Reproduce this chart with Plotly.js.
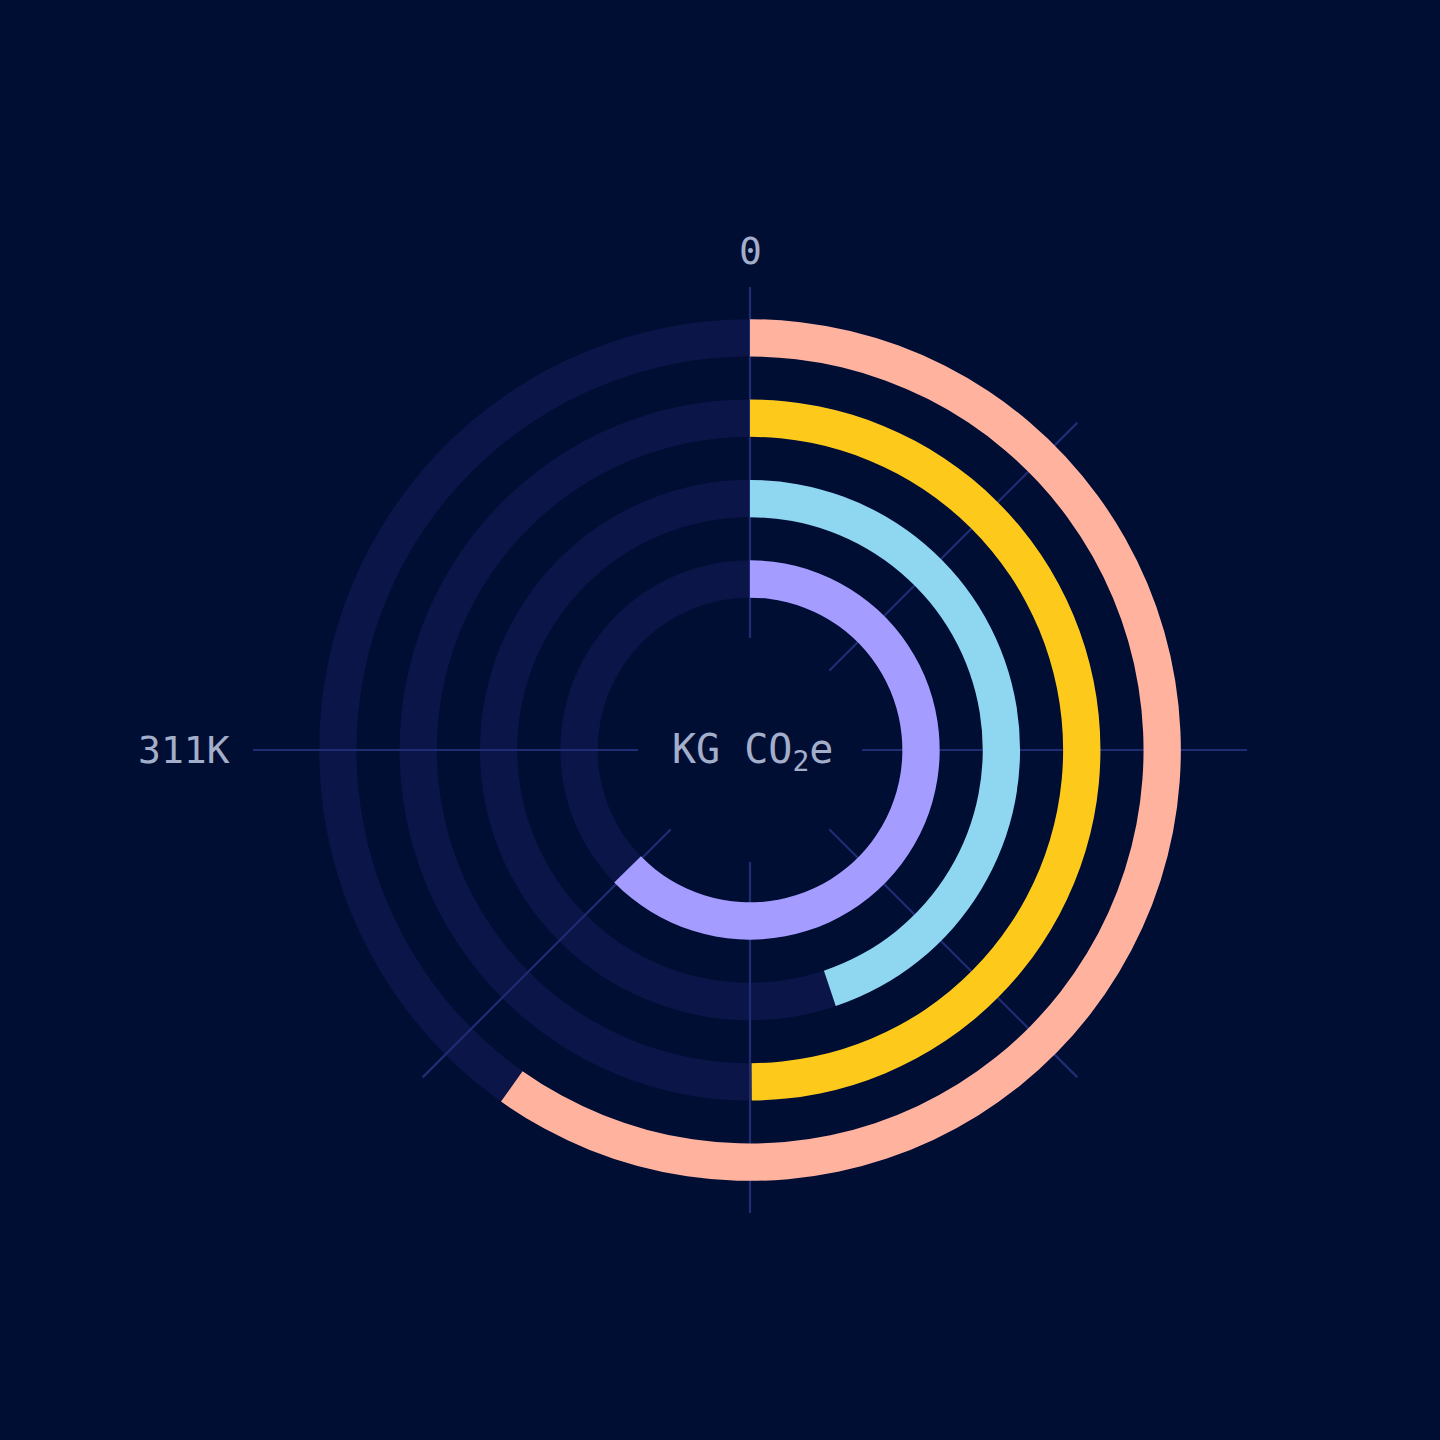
<!DOCTYPE html>
<html>
<head>
<meta charset="utf-8">
<script src="https://cdn.plot.ly/plotly-3.0.1.min.js"></script>
<style>
  html, body { margin: 0; padding: 0; background: #010e33; }
  #chart { width: 1440px; height: 1440px; }
</style>
</head>
<body>
<div id="chart"></div>
<script>
// ---- data ----
const seriesNames = ['Series A', 'Series B', 'Series C', 'Series D']; // inner -> outer ring
const seriesValues = [260, 186, 207, 248];   // thousands of kg CO2e
const seriesColors = ['#a59cff', '#8fd7f0', '#fdca1b', '#ffb39f'];
const axisMax = 311;                          // value reached at 3/4 turn
const tickLabels = ['0', '311K'];
const unitLabel = 'KG CO<sub>2</sub>e';
const spokeAngles = [0, 45, 90, 135, 180, 225, 270];

// ---- scales (value -> degrees) ----
const degPerUnit = 270 / axisMax;
const ringHalf = 0.232;        // half thickness in ring units
const rMin = -0.734, rMax = 4.055;
const spokeShort = 3.632;      // spoke length (ring units)
const spokeLongAngles = [90, 270];

const bgRing = '#0c1548';
const gridColor = '#1f2d74';
const textColor = '#a3aecb';

const idx = seriesNames.map((_, i) => i);

// background rings (full circle)
const bgTrace = {
  type: 'barpolar', subplot: 'polar',
  r: idx.map(() => 2 * ringHalf),
  base: idx.map(i => i - ringHalf),
  theta: idx.map(() => 180),
  width: idx.map(() => 360),
  marker: { color: bgRing, line: { width: 0 } },
  hoverinfo: 'skip', showlegend: false
};

// spokes
const spokeR = [], spokeT = [];
spokeAngles.forEach(a => {
  const outer = spokeLongAngles.includes(a) ? rMax : spokeShort;
  spokeR.push(rMin, outer, null);
  spokeT.push(a, a, null);
});
const spokeTrace = {
  type: 'scatterpolar', subplot: 'polar2', mode: 'lines',
  r: spokeR, theta: spokeT, connectgaps: false,
  line: { color: gridColor, width: 2.2 },
  hoverinfo: 'skip', showlegend: false, cliponaxis: false
};

// value bars
const barTrace = {
  type: 'barpolar', subplot: 'polar3',
  r: idx.map(() => 2 * ringHalf),
  base: idx.map(i => i - ringHalf),
  theta: seriesValues.map(v => v * degPerUnit / 2),
  width: seriesValues.map(v => v * degPerUnit),
  text: seriesNames,
  marker: { color: seriesColors, line: { width: 0 } },
  hovertemplate: '%{text}<extra></extra>',
  showlegend: false
};

const domainX = [253 / 1440, 1247 / 1440];
const domainY = [1 - 1247 / 1440, 1 - 253 / 1440];
const hole = 112 / 497;

function polarCfg(bg) {
  return {
    domain: { x: domainX, y: domainY },
    hole: hole,
    bgcolor: bg,
    radialaxis: { range: [rMin, rMax], visible: false, showgrid: false, showline: false, showticklabels: false, ticks: '' },
    angularaxis: { rotation: 90, direction: 'clockwise', showgrid: false, showline: false, showticklabels: false, ticks: '' },
    bargap: 0
  };
}

const fontFam = '"DejaVu Sans Mono", "Liberation Mono", monospace';

const layout = {
  width: 1440, height: 1440,
  margin: { l: 0, r: 0, t: 0, b: 0 },
  paper_bgcolor: '#010e33',
  plot_bgcolor: '#010e33',
  showlegend: false,
  polar: polarCfg('rgba(0,0,0,0)'),
  polar2: polarCfg('rgba(0,0,0,0)'),
  polar3: polarCfg('rgba(0,0,0,0)'),
  annotations: [
    { text: tickLabels[0], xref: 'paper', yref: 'paper', x: 750 / 1440, y: 1 - 251 / 1440,
      xanchor: 'center', yanchor: 'middle', showarrow: false,
      font: { family: fontFam, size: 38, color: textColor } },
    { text: tickLabels[1], xref: 'paper', yref: 'paper', x: 232 / 1440, y: 1 - 750 / 1440,
      xanchor: 'right', yanchor: 'middle', showarrow: false,
      font: { family: fontFam, size: 38, color: textColor } },
    { text: unitLabel, xref: 'paper', yref: 'paper', x: 752 / 1440, y: 1 - 752 / 1440,
      xanchor: 'center', yanchor: 'middle', showarrow: false,
      font: { family: fontFam, size: 40, color: textColor } }
  ]
};

Plotly.newPlot('chart', [bgTrace, spokeTrace, barTrace], layout, { displayModeBar: false, staticPlot: true });
</script>
</body>
</html>
